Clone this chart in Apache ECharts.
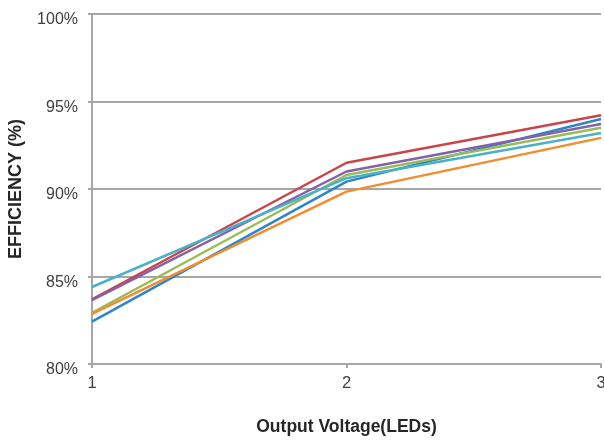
<!DOCTYPE html>
<html><head><meta charset="utf-8">
<script src="https://cdn.jsdelivr.net/npm/echarts@6/dist/echarts.min.js"></script>
<style>html,body{margin:0;padding:0;background:#fff;overflow:hidden}#c{width:604px;height:443px}</style>
</head><body><div id="c"></div>
<script>
const xValues = [1, 2, 3];
const seriesNames = ['S1', 'S2', 'S3', 'S4', 'S5', 'S6'];
const seriesColors = ['#2E86C8', '#C8464A', '#9BBB59', '#8462A8', '#4BB0C8', '#F28C30'];
const s1 = [82.42, 90.42, 94.0];
const s2 = [83.7, 91.5, 94.22];
const s3 = [82.93, 90.8, 93.5];
const s4 = [83.65, 91.0, 93.72];
const s5 = [84.4, 90.62, 93.2];
const s6 = [82.86, 89.85, 92.92];
const seriesValues = [s1, s2, s3, s4, s5, s6];
const yTicks = {min: 80, max: 100, interval: 5};

const chart = echarts.init(document.getElementById('c'));
const axisGray = '#A6A6A6';
const tickFont = "'Liberation Sans', Arial, sans-serif";
chart.setOption({
  animation: false,
  grid: {left: 92, right: 3, top: 14, bottom: 79, containLabel: false, outerBoundsMode: 'none'},
  xAxis: {
    type: 'value', min: 1, max: 3, interval: 1,
    name: 'Output Voltage(LEDs)', nameLocation: 'middle', nameGap: 54,
    nameTextStyle: {fontFamily: 'Liberation Sans', fontWeight: 'bold', fontSize: 17.5, color: '#262626'},
    axisLine: {show: true, lineStyle: {color: axisGray, width: 2}},
    axisTick: {show: true, length: 4, lineStyle: {color: axisGray, width: 2}},
    axisLabel: {fontFamily: tickFont, fontSize: 16.5, color: '#404040', margin: 11},
    splitLine: {show: false}
  },
  yAxis: {
    type: 'value', min: yTicks.min, max: yTicks.max, interval: yTicks.interval,
    name: 'EFFICIENCY (%)', nameLocation: 'middle', nameGap: 67,
    nameTextStyle: {fontFamily: 'Liberation Sans', fontWeight: 'bold', fontSize: 18, color: '#262626'},
    axisLine: {show: true, lineStyle: {color: axisGray, width: 2}},
    axisTick: {show: true, length: 4, lineStyle: {color: axisGray, width: 2}},
    axisLabel: {fontFamily: tickFont, fontSize: 16, color: '#404040', margin: 14, formatter: '{value}%', verticalAlign: 'top', lineHeight: 12},
    splitLine: {show: true, lineStyle: {color: axisGray, width: 2}}
  },
  series: seriesValues.map((vals, i) => ({
    name: seriesNames[i], type: 'line', symbol: 'none',
    data: vals.map((v, j) => [xValues[j], v]),
    lineStyle: {color: seriesColors[i], width: 2.5},
    itemStyle: {color: seriesColors[i]}
  }))
});
</script></body></html>
